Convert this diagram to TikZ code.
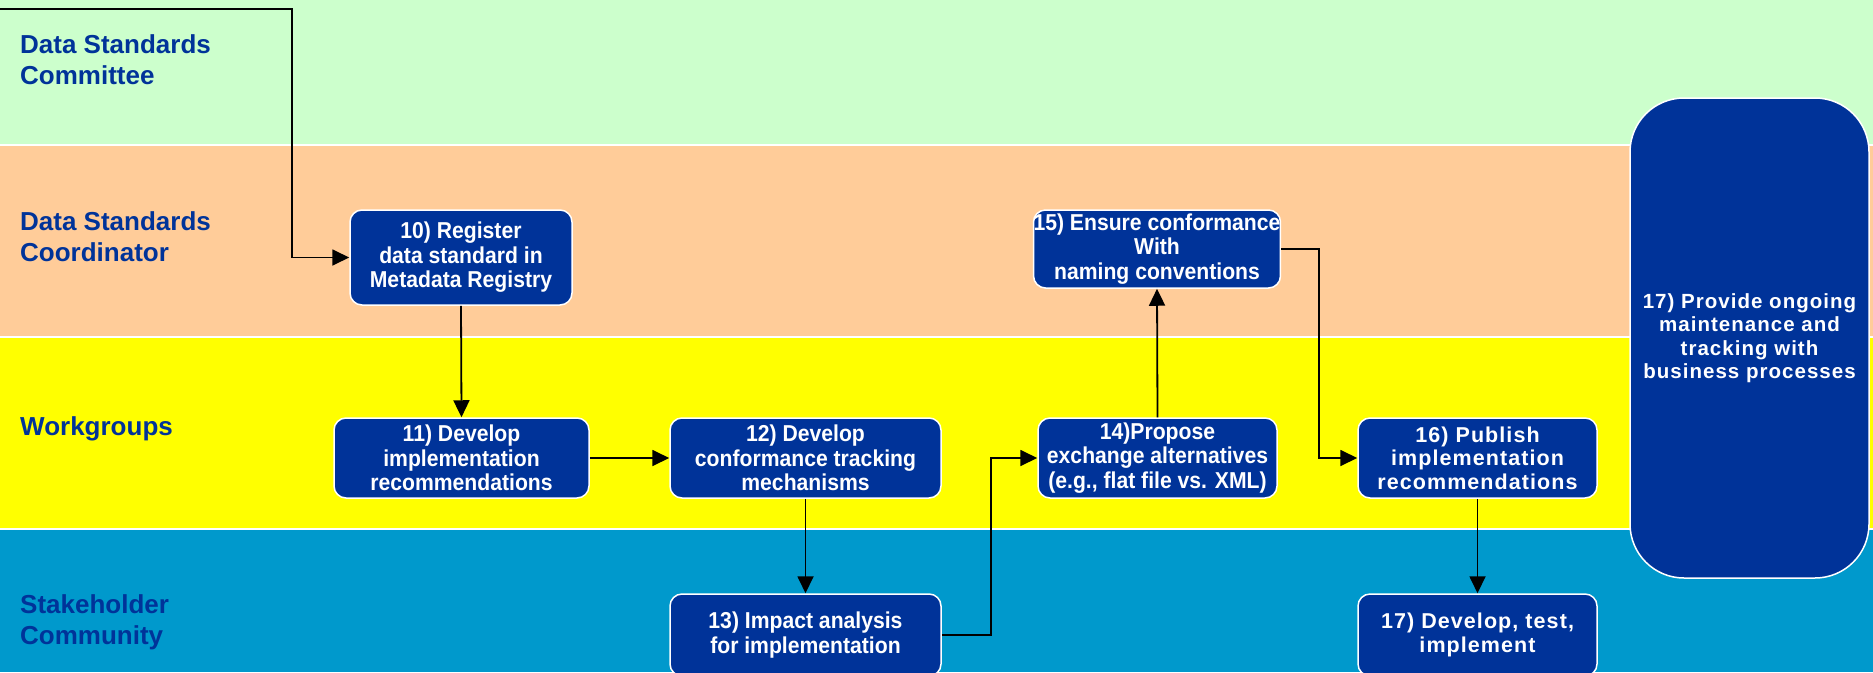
\documentclass[tikz,border=0pt]{standalone}
\usepackage{fontspec}
\setmainfont{Liberation Sans}
\newfontfamily\condfont[FakeStretch=0.92]{Liberation Sans Bold}
\newfontfamily\spacedfont[LetterSpace=5]{Liberation Sans Bold}
\newfontfamily\lanefont{Liberation Sans Bold}
\usetikzlibrary{arrows.meta}
\definecolor{laneGreen}{HTML}{CCFFCC}
\definecolor{lanePeach}{HTML}{FFCC99}
\definecolor{laneYellow}{HTML}{FFFF00}
\definecolor{laneBlue}{HTML}{0099CC}
\definecolor{darkBlue}{HTML}{003399}
\tikzset{
  lanelabel/.style={anchor=west, align=left, text=darkBlue, inner sep=0pt,
    font=\fontsize{26}{31}\selectfont\lanefont},
  procbox/.style={draw=white, line width=1.5pt, fill=darkBlue, rounded corners=12pt,
    text=white, align=center, inner sep=0pt},
  condbox/.style={procbox, font=\fontsize{23}{24.5}\selectfont\condfont},
  spacedbox/.style={procbox, font=\fontsize{21.5}{23.5}\selectfont\spacedfont},
  arr/.style={draw=black, line width=1.8pt, -{Triangle[length=17pt,width=16pt]}},
  sepline/.style={draw=white, line width=2.5pt}
}
\begin{document}
\begin{tikzpicture}[x=1pt,y=-1pt]
\useasboundingbox (0,0) rectangle (1873,672);
% lanes
\fill[laneGreen] (0,0) rectangle (1873,145);
\fill[lanePeach] (0,145) rectangle (1873,337);
\fill[laneYellow] (0,337) rectangle (1873,529);
\fill[laneBlue] (0,529) rectangle (1873,672);
\draw[sepline] (0,145) -- (1873,145);
\draw[sepline] (0,337) -- (1873,337);
\draw[sepline] (0,529) -- (1873,529);
% lane labels
\node[lanelabel] (l1) at (20,60) {Data Standards\\Committee};
\node[lanelabel] (l2) at (20,237) {Data Standards\\Coordinator};
\node[lanelabel] (l3) at (20,429) {Workgroups};
\node[lanelabel] (l4) at (20,622) {Stakeholder\\Community};
% boxes
\node[condbox, minimum width=222pt, minimum height=95pt] (b10) at (461,257.5)
  {10) Register\\data standard in\\Metadata Registry};
\node[condbox, minimum width=255pt, minimum height=80pt] (b11) at (461.5,458)
  {11) Develop\\implementation\\recommendations};
\node[condbox, minimum width=271pt, minimum height=80pt] (b12) at (805.5,458)
  {12) Develop\\conformance tracking\\mechanisms};
\node[condbox, minimum width=271pt, minimum height=82pt] (b13) at (805.5,635)
  {13) Impact analysis\\for implementation};
\node[condbox, minimum width=239pt, minimum height=80pt] (b14) at (1157.5,458)
  {14)Propose\\exchange alternatives\\(e.g., flat file vs. XML)};
\node[condbox, minimum width=242pt, minimum height=78pt] (b15) at (1157,249)
  {15) Ensure conformance\\With\\naming conventions};
\node[spacedbox, minimum width=239pt, minimum height=80pt] (b16) at (1477.5,458)
  {16) Publish\\implementation\\recommendations};
\node[spacedbox, minimum width=239pt, minimum height=82pt] (b17b) at (1477.5,635)
  {17) Develop, test,\\implement};
\node[spacedbox, font=\fontsize{20.5}{23.5}\selectfont\spacedfont, rounded corners=54pt, minimum width=239pt, minimum height=480pt] (b17a) at (1749.5,338)
  {17) Provide ongoing\\maintenance and\\tracking with\\business processes};
% connectors
\coordinate (start) at (0,9);
\coordinate (c1) at (292,9);
\draw[arr] (start) -- (c1) |- (b10.west);
\draw[arr] (b10.south) -- (b11.north);
\draw[arr] (b11.east) -- (b12.west);
\draw[arr] (b12.south) -- (b13.north);
\draw[arr] (b13.east) -- ++(49,0) |- (b14.west);
\draw[arr] (b14.north) -- (b15.south);
\draw[arr] (b15.east) -- ++(38,0) |- (b16.west);
\draw[arr] (b16.south) -- (b17b.north);
\end{tikzpicture}
\end{document}
